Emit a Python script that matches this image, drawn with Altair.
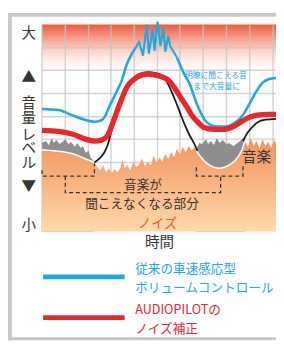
import altair as alt
import pandas as pd

FONT = "Noto Sans CJK JP"
BLUE = "#1fa8e1"
RED = "#e8262c"
DARK = "#333333"
BLUE_NAME = "従来の車速感応型|ボリュームコントロール"
RED_NAME = "AUDIOPILOTの|ノイズ補正"

# ---- grid (time / level units) ----
grid_t = [0, 24, 48, 71, 95, 119, 142, 166, 190, 214, 238]
grid_lv = [24, 47, 71, 95, 118, 142, 166, 189]

# ---- level scale labels ----
level_vals = [205, 159, 133, 117, 100, 86, 71, 47, 7]
level_chars = ["大", "▲", "音", "量", "レ", "ベ", "ル", "▼", "小"]

# ---- loud zone (top gradient band) ----
loud_t = [0, 241]
loud_lv = [165, 213]

# ---- blue: speed-sensitive volume control ----
blue_left_t = [0, 17, 30, 44, 54, 60, 64, 70, 77, 82, 87, 92, 97]
blue_left_lv = [126, 125, 120, 115, 113, 114, 117, 130, 144, 155, 171, 182, 190]
blue_spike_t = [97, 100, 104, 108, 110, 114, 116, 119, 122, 125, 127, 130, 132, 139]
blue_spike_lv = [190, 195, 181, 213, 183, 208, 186, 216, 191, 210, 185, 201, 191, 179]
blue_right_t = [139, 146, 152, 160, 170, 179, 189, 199, 207, 214, 220, 227, 234, 241]
blue_right_lv = [179, 163, 152, 130, 112, 108, 108, 112, 120, 132, 143, 153, 157, 158]

# ---- red: AUDIOPILOT ----
red_t = [0, 17, 32, 45, 54, 61, 67, 72, 77, 82, 87, 94, 100, 109, 117, 124, 130, 137,
         144, 150, 154, 160, 167, 177, 187, 197, 207, 215, 224, 233, 241]
red_lv = [104, 103, 100, 95, 93, 94, 98, 109, 123, 136, 148, 156, 160, 162, 161, 159, 156,
          147, 136, 127, 120, 113, 107, 105, 105, 108, 114, 118, 120, 120.5, 120.5]

# ---- black: music ----
black_a_t = [54, 59, 64, 68, 71, 74, 78, 82, 87, 94, 100, 109, 117, 123, 128, 133, 138,
             143, 147, 152, 157, 160]
black_a_lv = [71, 75, 81, 90, 101, 111, 124, 135, 146, 157, 162, 164, 163, 161, 155, 145,
              133, 120, 110, 99, 90, 83]
black_b_t = [207, 212, 217, 223, 230, 241]
black_b_lv = [93, 102, 108, 113, 115, 116]

# ---- gray: masked music ----
gray_a_t = [0, 4, 7, 10, 12, 15, 18, 21, 24, 27, 30, 34, 36, 40, 42, 45, 48, 50, 53, 54]
gray_a_lv = [91, 93, 89, 96, 91, 94, 90, 92, 95, 90, 92, 87, 91, 86, 88, 81, 83, 76, 73, 71]
gray_b_t = [159, 162, 165, 169, 171, 174, 177, 180, 183, 186, 190, 193, 197, 200, 204, 207, 209]
gray_b_lv = [85, 91, 90, 95, 90, 93, 89, 96, 91, 94, 90, 91, 88, 90, 93, 96, 93]

# ---- white: music level under noise ----
white_a_t = [0, 6, 12, 17, 22, 27, 32, 37, 42, 45, 49, 52, 54]
white_a_lv = [84, 83.5, 83, 82.5, 82, 81, 80, 78, 76, 74.5, 73, 72, 71]
white_b_t = [159, 161, 164, 167, 170, 173, 177, 181, 184, 188, 192, 196, 199, 202, 204,
             206, 207, 208, 209]
white_b_lv = [83, 80, 76, 72.5, 70, 68, 66, 65, 65, 66, 68, 70.5, 73, 77, 80, 84, 87, 90, 93]

# ---- noise top (jagged parts) ----
noise_mid_t = [57, 60, 63, 66, 69, 72, 75, 78, 81, 83, 85, 88, 91, 94, 97, 100, 103, 106,
               109, 112, 115, 118, 121, 124, 127, 130, 133, 136, 139, 142, 145, 148, 151,
               154, 157]
noise_mid_lv = [66, 63, 68, 61, 65, 60, 64, 61, 66, 74, 65, 68, 63, 72, 66, 69, 75, 67, 72,
                68, 78, 71, 76, 72, 80, 74, 82, 76, 85, 79, 87, 81, 88, 83, 87]
noise_end_t = [212, 215, 218, 221, 224, 227, 230, 233, 236, 239, 241]
noise_end_lv = [87, 96, 88, 93, 85, 95, 88, 92, 86, 94, 90]

# ---- dashed brackets ----
bracket_t = [0, 0, 54, 54, 159, 159, 207, 207, 24, 24, 184, 184]
bracket_lv = [63, 57, 57, 70, 66, 57, 57, 68, 57, 40, 40, 57]
bracket_grp = [0, 0, 0, 0, 1, 1, 1, 1, 2, 2, 2, 2]

# ---- annotations ----
note_txt = ["音楽が", "聞こえなくなる部分"]
note_t = [104, 103]
note_lv = [48, 28]
music_txt = ["音楽"]
music_t = [221]
music_lv = [76]
noise_txt = ["ノイズ"]
noise_t = [119]
noise_lv = [8]
clear_txt = ["明瞭に聞こえる音", "まで大音量に"]
clear_t = [179, 180]
clear_lv = [160, 149]

# ---- frame ----
frame_t0 = [-35, -35, -35]
frame_t1 = [-31, 241, 241]
frame_l0 = [-112, 221, -112]
frame_l1 = [225, 225, -109]

# ================= chart =================
xs = alt.Scale(domain=[0, 241], nice=False, zero=False)
ys = alt.Scale(domain=[0, 213], nice=False, zero=False)
x_axis = alt.Axis(title="時間", labels=False, ticks=False, domain=False, grid=False,
                  titleFont=FONT, titleFontSize=15, titleFontWeight="normal",
                  titleColor=DARK, titlePadding=4)
label_expr = " : ".join(
    f"datum.value == {v} ? '{c}'" for v, c in zip(level_vals, level_chars)) + " : ''"
y_axis = alt.Axis(title=None, values=level_vals, labelExpr=label_expr, ticks=False,
                  tickSize=0, domain=False, grid=False, labelAlign="center",
                  labelBaseline="middle", labelPadding=14, labelFont=FONT,
                  labelFontSize=15, labelColor=DARK, labelOverlap=False, labelBound=False)


def X(f="t"):
    return alt.X(f"{f}:Q", scale=xs, axis=x_axis)


def Y(f="lv"):
    return alt.Y(f"{f}:Q", scale=ys, axis=y_axis, stack=None)


color_enc = alt.Color(
    "series:N",
    scale=alt.Scale(domain=[BLUE_NAME, RED_NAME], range=[BLUE, RED]),
    legend=alt.Legend(
        title=None, orient="none", legendX=0, legendY=244, direction="vertical",
        symbolType="M-1.3,1.5H14.7", symbolSize=110, symbolStrokeWidth=5,
        labelFont=FONT, labelFontSize=13, labelExpr="split(datum.label, '|')",
        labelColor={"expr": f"datum.value == '{BLUE_NAME}' ? '{BLUE}' : '{RED}'"},
        labelOffset=80, labelLimit=400, rowPadding=7, padding=0,
    ),
)


def df(**cols):
    return pd.DataFrame(cols)


frame = alt.Chart(df(t0=frame_t0, t1=frame_t1, l0=frame_l0, l1=frame_l1)).mark_rect(
    color="#c8c8c8").encode(x=X("t0"), x2="t1", y=Y("l0"), y2="l1")

loud = alt.Chart(df(t0=[loud_t[0]], t1=[loud_t[1]], l0=[loud_lv[0]], l1=[loud_lv[1]])).mark_rect(
    color=alt.Gradient(gradient="linear", x1=0, x2=0, y1=0, y2=1, stops=[
        alt.GradientStop(color="#ee5a3c", offset=0),
        alt.GradientStop(color="#f5a089", offset=0.3),
        alt.GradientStop(color="#fbd3c8", offset=0.55),
        alt.GradientStop(color="#fff2ee", offset=0.8),
        alt.GradientStop(color="#ffffff", offset=1),
    ])).encode(x=X("t0"), x2="t1", y=Y("l1"), y2="l0")

vgrid = alt.Chart(df(t=grid_t)).mark_rule(color="#c4c4c4", strokeWidth=1.5, opacity=0.75).encode(x=X())
hgrid = alt.Chart(df(lv=grid_lv)).mark_rule(color="#c4c4c4", strokeWidth=1.5, opacity=0.75).encode(y=Y())

gray_df = pd.concat([df(t=gray_a_t, lv=gray_a_lv, seg=0), df(t=gray_b_t, lv=gray_b_lv, seg=1)])
gray = alt.Chart(gray_df).mark_area(color="#8e8e8e", interpolate="linear").encode(
    x=X(), y=Y(), detail="seg:N")

noise_df = df(t=white_a_t + noise_mid_t + white_b_t + noise_end_t,
              lv=white_a_lv + noise_mid_lv + white_b_lv + noise_end_lv)
noise = alt.Chart(noise_df).mark_area(
    interpolate="linear",
    color=alt.Gradient(gradient="linear", x1=0, x2=0, y1=0, y2=1, stops=[
        alt.GradientStop(color="#f3925a", offset=0),
        alt.GradientStop(color="#fed9ac", offset=1),
    ])).encode(x=X(), y=Y())

white_df = pd.concat([df(t=white_a_t, lv=white_a_lv, seg=0), df(t=white_b_t, lv=white_b_lv, seg=1)])
white = alt.Chart(white_df).mark_line(color="white", strokeWidth=1.6).encode(
    x=X(), y=Y(), detail="seg:N")

black_df = pd.concat([df(t=black_a_t, lv=black_a_lv, seg=0), df(t=black_b_t, lv=black_b_lv, seg=1)])
black = alt.Chart(black_df).mark_line(color="#1a1a1a", strokeWidth=1.8, interpolate="monotone").encode(
    x=X(), y=Y(), detail="seg:N")

blue_smooth_df = pd.concat([df(t=blue_left_t, lv=blue_left_lv, seg=0),
                            df(t=blue_right_t, lv=blue_right_lv, seg=1)])
blue_smooth_df["series"] = BLUE_NAME
blue_smooth = alt.Chart(blue_smooth_df).mark_line(strokeWidth=2.6, interpolate="monotone").encode(
    x=X(), y=Y(), detail="seg:N", color=color_enc)

blue_spike_df = df(t=blue_spike_t, lv=blue_spike_lv)
blue_spike_df["series"] = BLUE_NAME
blue_spike = alt.Chart(blue_spike_df).mark_line(strokeWidth=2.2, interpolate="linear",
                                                 strokeJoin="miter").encode(
    x=X(), y=Y(), color=color_enc)

red_df = df(t=red_t, lv=red_lv)
red_df["series"] = RED_NAME
red = alt.Chart(red_df).mark_line(strokeWidth=5.5, interpolate="monotone").encode(
    x=X(), y=Y(), color=color_enc)

br_df = df(t=bracket_t, lv=bracket_lv, grp=bracket_grp, i=list(range(len(bracket_t))))
brackets = alt.Chart(br_df).mark_line(color="#333333", strokeWidth=1.3, strokeDash=[4, 3]).encode(
    x=X(), y=Y(), detail="grp:N", order="i:Q")

notes = alt.Chart(df(t=note_t, lv=note_lv, txt=note_txt)).mark_text(
    font=FONT, fontSize=13, color=DARK, baseline="middle", align="center").encode(
    x=X(), y=Y(), text="txt:N")
music = alt.Chart(df(t=music_t, lv=music_lv, txt=music_txt)).mark_text(
    font=FONT, fontSize=15, color=DARK, baseline="middle", align="center").encode(
    x=X(), y=Y(), text="txt:N")
noise_lbl = alt.Chart(df(t=noise_t, lv=noise_lv, txt=noise_txt)).mark_text(
    font=FONT, fontSize=13.5, color="#f15a24", baseline="middle", align="center").encode(
    x=X(), y=Y(), text="txt:N")
clear = alt.Chart(df(t=clear_t, lv=clear_lv, txt=clear_txt)).mark_text(
    font=FONT, fontSize=8, color="#2aa7df", baseline="middle", align="center").encode(
    x=X(), y=Y(), text="txt:N")

chart = alt.layer(
    frame, loud, vgrid, hgrid, gray, noise, white, black, blue_smooth, blue_spike, red,
    brackets, notes, music, noise_lbl, clear,
).properties(
    width=241, height=213,
    autosize=alt.AutoSizeParams(type="none"),
    padding={"left": 35, "top": 12, "right": 0, "bottom": 114},
).configure(
    view=alt.ViewConfig(stroke=None),
    style={"guide-label": {"lineHeight": 19.5}},
)

chart.save("out.html", embed_options={"renderer": "svg", "actions": False})
